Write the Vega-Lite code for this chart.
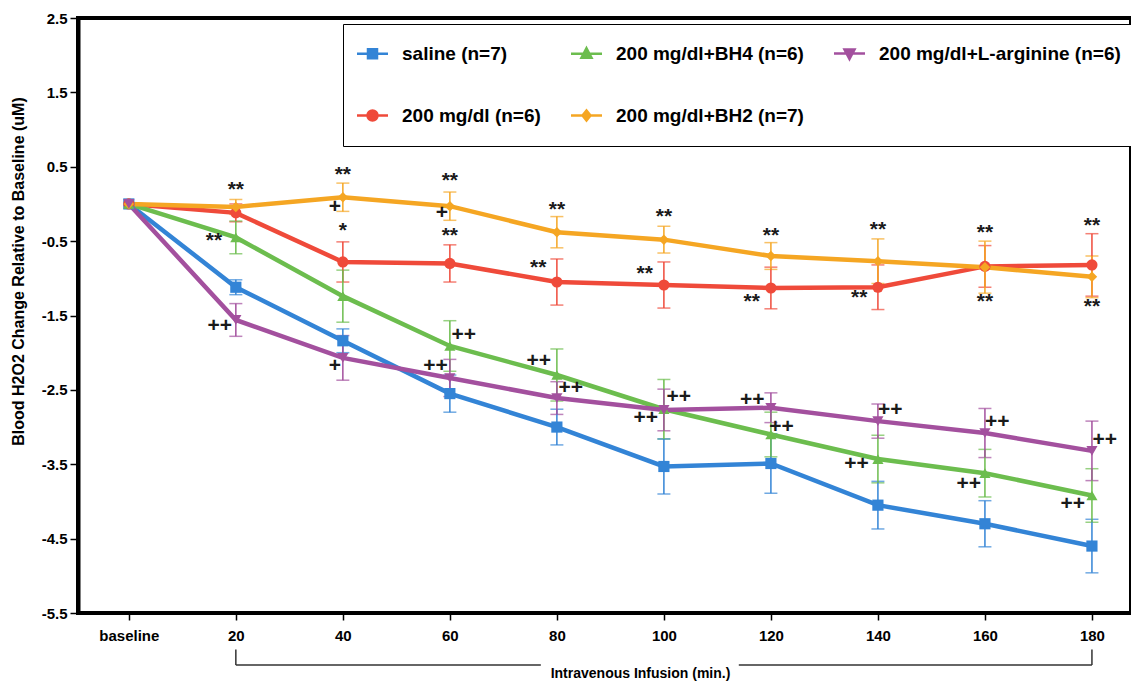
{
  "$schema": "https://vega.github.io/schema/vega-lite/v6.json",
  "width": 1053,
  "height": 595,
  "autosize": {"type": "none"},
  "padding": {"left": 78, "top": 18, "right": 0, "bottom": 70},
  "background": "white",
  "config": {
    "view": {"stroke": "black", "strokeWidth": 4},
    "font": "Liberation Sans",
    "legend": {
      "title": null,
      "orient": "none",
      "legendX": 265,
      "legendY": 6,
      "columns": 3,
      "columnPadding": 25,
      "rowPadding": 41,
      "padding": 20,
      "strokeColor": "black",
      "fillColor": "white",
      "labelFont": "Liberation Sans",
      "labelFontWeight": "bold",
      "labelFontSize": 19,
      "labelColor": "black",
      "labelLimit": 400,
      "symbolSize": 100,
      "symbolOpacity": 1,
      "symbolStrokeWidth": 2.5,
      "labelOffset": 20
    }
  },
  "datasets": {
    "series": [
      {"group": "saline (n=7)", "t": 0, "mean": 0, "err": 0},
      {"group": "saline (n=7)", "t": 20, "mean": -1.12, "err": 0.1},
      {"group": "saline (n=7)", "t": 40, "mean": -1.84, "err": 0.16},
      {"group": "saline (n=7)", "t": 60, "mean": -2.55, "err": 0.25},
      {"group": "saline (n=7)", "t": 80, "mean": -3.0, "err": 0.24},
      {"group": "saline (n=7)", "t": 100, "mean": -3.53, "err": 0.37},
      {"group": "saline (n=7)", "t": 120, "mean": -3.49, "err": 0.4},
      {"group": "saline (n=7)", "t": 140, "mean": -4.05, "err": 0.32},
      {"group": "saline (n=7)", "t": 160, "mean": -4.3, "err": 0.31},
      {"group": "saline (n=7)", "t": 180, "mean": -4.6, "err": 0.36},
      {"group": "200 mg/dl (n=6)", "t": 0, "mean": 0, "err": 0},
      {"group": "200 mg/dl (n=6)", "t": 20, "mean": -0.12, "err": 0.12},
      {"group": "200 mg/dl (n=6)", "t": 40, "mean": -0.78, "err": 0.27},
      {"group": "200 mg/dl (n=6)", "t": 60, "mean": -0.8, "err": 0.25},
      {"group": "200 mg/dl (n=6)", "t": 80, "mean": -1.05, "err": 0.31},
      {"group": "200 mg/dl (n=6)", "t": 100, "mean": -1.09, "err": 0.31},
      {"group": "200 mg/dl (n=6)", "t": 120, "mean": -1.13, "err": 0.28},
      {"group": "200 mg/dl (n=6)", "t": 140, "mean": -1.12, "err": 0.3},
      {"group": "200 mg/dl (n=6)", "t": 160, "mean": -0.84, "err": 0.28},
      {"group": "200 mg/dl (n=6)", "t": 180, "mean": -0.82, "err": 0.42},
      {"group": "200 mg/dl+BH4 (n=6)", "t": 0, "mean": 0, "err": 0},
      {"group": "200 mg/dl+BH4 (n=6)", "t": 20, "mean": -0.45, "err": 0.22},
      {"group": "200 mg/dl+BH4 (n=6)", "t": 40, "mean": -1.24, "err": 0.35},
      {"group": "200 mg/dl+BH4 (n=6)", "t": 60, "mean": -1.91, "err": 0.34},
      {"group": "200 mg/dl+BH4 (n=6)", "t": 80, "mean": -2.3, "err": 0.35},
      {"group": "200 mg/dl+BH4 (n=6)", "t": 100, "mean": -2.76, "err": 0.4},
      {"group": "200 mg/dl+BH4 (n=6)", "t": 120, "mean": -3.1, "err": 0.3},
      {"group": "200 mg/dl+BH4 (n=6)", "t": 140, "mean": -3.43, "err": 0.32},
      {"group": "200 mg/dl+BH4 (n=6)", "t": 160, "mean": -3.62, "err": 0.32},
      {"group": "200 mg/dl+BH4 (n=6)", "t": 180, "mean": -3.92, "err": 0.36},
      {"group": "200 mg/dl+BH2 (n=7)", "t": 0, "mean": 0, "err": 0},
      {"group": "200 mg/dl+BH2 (n=7)", "t": 20, "mean": -0.04, "err": 0.1},
      {"group": "200 mg/dl+BH2 (n=7)", "t": 40, "mean": 0.09, "err": 0.19},
      {"group": "200 mg/dl+BH2 (n=7)", "t": 60, "mean": -0.03, "err": 0.19},
      {"group": "200 mg/dl+BH2 (n=7)", "t": 80, "mean": -0.38, "err": 0.21},
      {"group": "200 mg/dl+BH2 (n=7)", "t": 100, "mean": -0.48, "err": 0.18},
      {"group": "200 mg/dl+BH2 (n=7)", "t": 120, "mean": -0.7, "err": 0.18},
      {"group": "200 mg/dl+BH2 (n=7)", "t": 140, "mean": -0.77, "err": 0.3},
      {"group": "200 mg/dl+BH2 (n=7)", "t": 160, "mean": -0.85, "err": 0.35},
      {"group": "200 mg/dl+BH2 (n=7)", "t": 180, "mean": -0.98, "err": 0.28},
      {"group": "200 mg/dl+L-arginine (n=6)", "t": 0, "mean": 0, "err": 0},
      {"group": "200 mg/dl+L-arginine (n=6)", "t": 20, "mean": -1.56, "err": 0.22},
      {"group": "200 mg/dl+L-arginine (n=6)", "t": 40, "mean": -2.07, "err": 0.3},
      {"group": "200 mg/dl+L-arginine (n=6)", "t": 60, "mean": -2.34, "err": 0.25},
      {"group": "200 mg/dl+L-arginine (n=6)", "t": 80, "mean": -2.61, "err": 0.22},
      {"group": "200 mg/dl+L-arginine (n=6)", "t": 100, "mean": -2.77, "err": 0.28},
      {"group": "200 mg/dl+L-arginine (n=6)", "t": 120, "mean": -2.74, "err": 0.2},
      {"group": "200 mg/dl+L-arginine (n=6)", "t": 140, "mean": -2.92, "err": 0.23},
      {"group": "200 mg/dl+L-arginine (n=6)", "t": 160, "mean": -3.08, "err": 0.33},
      {"group": "200 mg/dl+L-arginine (n=6)", "t": 180, "mean": -3.32, "err": 0.4}
    ],
    "marks": [
      {"label": "**", "t": 20, "v": 0.19},
      {"label": "**", "t": 15.9, "v": -0.5},
      {"label": "++", "t": 17, "v": -1.64},
      {"label": "**", "t": 40, "v": 0.39},
      {"label": "+", "t": 38.5, "v": -0.04},
      {"label": "*", "t": 40, "v": -0.37},
      {"label": "+", "t": 38.5, "v": -2.18},
      {"label": "**", "t": 60, "v": 0.31},
      {"label": "+", "t": 58.5, "v": -0.12},
      {"label": "**", "t": 60, "v": -0.43},
      {"label": "++", "t": 62.6, "v": -1.76},
      {"label": "++", "t": 57.3, "v": -2.18},
      {"label": "**", "t": 80, "v": -0.08},
      {"label": "**", "t": 76.5, "v": -0.86},
      {"label": "++", "t": 76.6, "v": -2.11},
      {"label": "++", "t": 82.6, "v": -2.47},
      {"label": "**", "t": 100, "v": -0.17},
      {"label": "**", "t": 96.4, "v": -0.94},
      {"label": "++", "t": 102.8, "v": -2.59},
      {"label": "++", "t": 96.6, "v": -2.88},
      {"label": "**", "t": 120, "v": -0.43},
      {"label": "**", "t": 116.4, "v": -1.32},
      {"label": "++", "t": 116.5, "v": -2.63},
      {"label": "++", "t": 122, "v": -3.0},
      {"label": "**", "t": 140, "v": -0.35},
      {"label": "**", "t": 136.5, "v": -1.26},
      {"label": "++", "t": 142.3, "v": -2.77},
      {"label": "++", "t": 136, "v": -3.5},
      {"label": "**", "t": 160, "v": -0.39},
      {"label": "**", "t": 160, "v": -1.32},
      {"label": "++", "t": 162.3, "v": -2.93},
      {"label": "++", "t": 157, "v": -3.76},
      {"label": "**", "t": 180, "v": -0.3},
      {"label": "**", "t": 180, "v": -1.38},
      {"label": "++", "t": 182.4, "v": -3.17},
      {"label": "++", "t": 176.4, "v": -4.03}
    ],
    "bracket": [
      {"a": 20, "b": 77, "v": -6.2, "v2": -6.2},
      {"a": 114, "b": 180, "v": -6.2, "v2": -6.2},
      {"a": 20, "b": 20, "v": -5.99, "v2": -6.2},
      {"a": 180, "b": 180, "v": -5.99, "v2": -6.2}
    ]
  },
  "layer": [
    {
      "data": {"name": "series"},
      "transform": [{"filter": "datum.t > 0"}],
      "mark": {"type": "errorbar", "ticks": {"size": 13, "thickness": 1.5}, "thickness": 1.5},
      "encoding": {
        "x": {
          "field": "t", "type": "quantitative",
          "title": "Intravenous Infusion (min.)",
          "scale": {"domain": [-9.5, 187.3], "nice": false, "zero": false},
          "axis": {
            "values": [0, 20, 40, 60, 80, 100, 120, 140, 160, 180],
            "labelExpr": "datum.value == 0 ? 'baseline' : datum.label",
            "grid": false,
            "domain": false,
            "tickColor": "black",
            "tickSize": 7,
            "tickWidth": 1.5,
            "labelFont": "Liberation Sans",
            "labelFontWeight": "bold",
            "labelFontSize": 15,
            "labelColor": "black",
            "labelPadding": 8,
            "titleFont": "Liberation Sans",
            "titleFontWeight": "bold",
            "titleFontSize": 14,
            "titleColor": "black",
            "titleX": 562,
            "titleY": 60,
            "titleBaseline": "middle"
          }
        },
        "y": {
          "field": "mean", "type": "quantitative",
          "title": "Blood H2O2 Change Relative to Baseline (uM)",
          "scale": {"domain": [-5.5, 2.5], "nice": false, "zero": false},
          "axis": {
            "values": [2.5, 1.5, 0.5, -0.5, -1.5, -2.5, -3.5, -4.5, -5.5],
            "labelExpr": "replace(format(datum.value, '.1f'), '\u2212', '-')",
            "grid": false,
            "domainColor": "black",
            "domainWidth": 4,
            "tickColor": "black",
            "tickSize": 8,
            "tickWidth": 1.5,
            "labelFont": "Liberation Sans",
            "labelFontWeight": "bold",
            "labelFontSize": 15,
            "labelColor": "black",
            "labelPadding": 3,
            "titleFont": "Liberation Sans",
            "titleFontWeight": "bold",
            "titleFontSize": 16,
            "titleColor": "black",
            "titleX": -60,
            "titleY": 253,
            "titleBaseline": "middle",
            "titleAngle": -90
          }
        },
        "yError": {"field": "err"},
        "color": {
          "field": "group", "type": "nominal",
          "scale": {
            "domain": ["saline (n=7)", "200 mg/dl (n=6)", "200 mg/dl+BH4 (n=6)", "200 mg/dl+BH2 (n=7)", "200 mg/dl+L-arginine (n=6)"],
            "range": ["#3384d6", "#ef4a3a", "#6cbd4e", "#f5a623", "#a3509e"]
          },
          "legend": {
            "encoding": {
              "symbols": {
                "shape": {"value": {"expr": "datum.value === 'saline (n=7)' ? 'M-3.1,0H3.1M-0.9,-0.9H0.9V0.9H-0.9Z' : datum.value === '200 mg/dl (n=6)' ? 'M-3.1,0H3.1M-1,0A1,1,0,1,1,1,0A1,1,0,1,1,-1,0Z' : datum.value === '200 mg/dl+BH4 (n=6)' ? 'M-3.1,0H3.1M0,-1.1L1,0.8H-1Z' : datum.value === '200 mg/dl+BH2 (n=7)' ? 'M-3.1,0H3.1M0,-1L0.8,0L0,1L-0.8,0Z' : 'M-3.1,0H3.1M0,1.1L1,-0.8H-1Z'"}},
                "fill": {"value": {"expr": "scale('color', datum.value)"}},
                "stroke": {"value": {"expr": "scale('color', datum.value)"}},
                "strokeWidth": {"value": 2.5},
                "opacity": {"value": 1}
              }
            }
          }
        }
      }
    },
    {
      "data": {"name": "series"},
      "mark": {"type": "line", "strokeWidth": 4.5},
      "encoding": {
        "x": {"field": "t", "type": "quantitative", "title": "Intravenous Infusion (min.)"},
        "y": {"field": "mean", "type": "quantitative", "title": "Blood H2O2 Change Relative to Baseline (uM)"},
        "color": {"field": "group", "type": "nominal"}
      }
    },
    {
      "data": {"name": "series"},
      "transform": [{"filter": "datum.group === 'saline (n=7)'"}],
      "mark": {"type": "point", "shape": "square", "filled": true, "size": 125, "opacity": 1},
      "encoding": {
        "x": {"field": "t", "type": "quantitative", "title": "Intravenous Infusion (min.)"},
        "y": {"field": "mean", "type": "quantitative", "title": "Blood H2O2 Change Relative to Baseline (uM)"},
        "color": {"field": "group", "type": "nominal"}
      }
    },
    {
      "data": {"name": "series"},
      "transform": [{"filter": "datum.group === '200 mg/dl (n=6)'"}],
      "mark": {"type": "point", "shape": "circle", "filled": true, "size": 125, "opacity": 1},
      "encoding": {
        "x": {"field": "t", "type": "quantitative", "title": "Intravenous Infusion (min.)"},
        "y": {"field": "mean", "type": "quantitative", "title": "Blood H2O2 Change Relative to Baseline (uM)"},
        "color": {"field": "group", "type": "nominal"}
      }
    },
    {
      "data": {"name": "series"},
      "transform": [{"filter": "datum.group === '200 mg/dl+BH4 (n=6)'"}],
      "mark": {"type": "point", "shape": "triangle-up", "filled": true, "size": 125, "opacity": 1},
      "encoding": {
        "x": {"field": "t", "type": "quantitative", "title": "Intravenous Infusion (min.)"},
        "y": {"field": "mean", "type": "quantitative", "title": "Blood H2O2 Change Relative to Baseline (uM)"},
        "color": {"field": "group", "type": "nominal"}
      }
    },
    {
      "data": {"name": "series"},
      "transform": [{"filter": "datum.group === '200 mg/dl+BH2 (n=7)'"}],
      "mark": {"type": "point", "shape": "diamond", "filled": true, "size": 110, "opacity": 1},
      "encoding": {
        "x": {"field": "t", "type": "quantitative", "title": "Intravenous Infusion (min.)"},
        "y": {"field": "mean", "type": "quantitative", "title": "Blood H2O2 Change Relative to Baseline (uM)"},
        "color": {"field": "group", "type": "nominal"}
      }
    },
    {
      "data": {"name": "series"},
      "transform": [{"filter": "datum.group === '200 mg/dl+L-arginine (n=6)'"}],
      "mark": {"type": "point", "shape": "triangle-down", "filled": true, "size": 125, "opacity": 1},
      "encoding": {
        "x": {"field": "t", "type": "quantitative", "title": "Intravenous Infusion (min.)"},
        "y": {"field": "mean", "type": "quantitative", "title": "Blood H2O2 Change Relative to Baseline (uM)"},
        "color": {"field": "group", "type": "nominal"}
      }
    },
    {
      "data": {"name": "marks"},
      "mark": {"type": "text", "font": "Liberation Sans", "fontWeight": "bold", "fontSize": 21, "color": "#1a1a1a", "align": "center", "baseline": "middle"},
      "encoding": {
        "x": {"field": "t", "type": "quantitative", "title": "Intravenous Infusion (min.)"},
        "y": {"field": "v", "type": "quantitative", "title": "Blood H2O2 Change Relative to Baseline (uM)"},
        "text": {"field": "label"}
      }
    },
    {
      "data": {"name": "bracket"},
      "mark": {"type": "rule", "color": "#333", "strokeWidth": 1.5, "clip": false},
      "encoding": {
        "x": {"field": "a", "type": "quantitative", "title": "Intravenous Infusion (min.)"},
        "x2": {"field": "b"},
        "y": {"field": "v", "type": "quantitative", "title": "Blood H2O2 Change Relative to Baseline (uM)"},
        "y2": {"field": "v2"}
      }
    }
  ]
}
